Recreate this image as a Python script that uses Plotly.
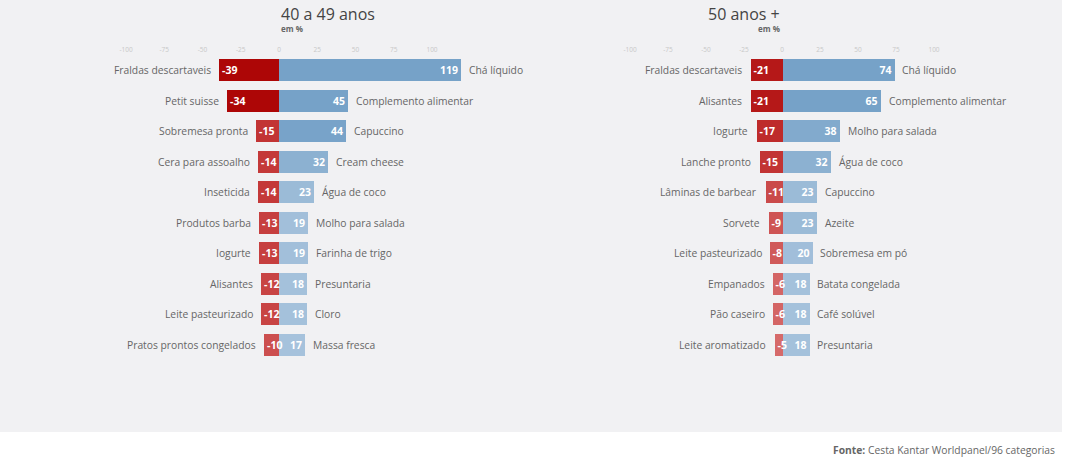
import plotly.graph_objects as go
from plotly.subplots import make_subplots

W, H = 1067, 460

# 40 a 49 anos
neg_cats_40 = ["Fraldas descartaveis", "Petit suisse", "Sobremesa pronta", "Cera para assoalho",
               "Inseticida", "Produtos barba", "Iogurte", "Alisantes", "Leite pasteurizado",
               "Pratos prontos congelados"]
neg_vals_40 = [-39, -34, -15, -14, -14, -13, -13, -12, -12, -10]
pos_cats_40 = ["Chá líquido", "Complemento alimentar", "Capuccino", "Cream cheese", "Água de coco",
               "Molho para salada", "Farinha de trigo", "Presuntaria", "Cloro", "Massa fresca"]
pos_vals_40 = [119, 45, 44, 32, 23, 19, 19, 18, 18, 17]

# 50 anos +
neg_cats_50 = ["Fraldas descartaveis", "Alisantes", "Iogurte", "Lanche pronto", "Lâminas de barbear",
               "Sorvete", "Leite pasteurizado", "Empanados", "Pão caseiro", "Leite aromatizado"]
neg_vals_50 = [-21, -21, -17, -15, -11, -9, -8, -6, -6, -5]
pos_cats_50 = ["Chá líquido", "Complemento alimentar", "Molho para salada", "Água de coco", "Capuccino",
               "Azeite", "Sobremesa em pó", "Batata congelada", "Café solúvel", "Presuntaria"]
pos_vals_50 = [74, 65, 38, 32, 23, 23, 20, 18, 18, 18]

ticks = [-100, -75, -50, -25, 0, 25, 50, 75, 100]
titles = ["40 a 49 anos", "50 anos +"]

RED_SCALE = [[0, "#ad0606"], [0.5, "#c23434"], [1, "#d66a6a"]]
BLUE_SCALE = [[0, "#a9c4dd"], [1, "#76a2c8"]]
FONT = "Open Sans"


def px_x(x):
    return x / W


def px_y(y):
    return 1 - y / H


fig = make_subplots(rows=1, cols=2, horizontal_spacing=0)

panels = [
    (neg_cats_40, neg_vals_40, pos_cats_40, pos_vals_40),
    (neg_cats_50, neg_vals_50, pos_cats_50, pos_vals_50),
]

# pixel geometry: zero line and px per unit for each panel
zero_px = [279, 782]
ppu = [1.53, 1.52]
dom = [(0, 533.5), (533.5, 1067)]

for i, (ncats, nvals, pcats, pvals) in enumerate(panels):
    col = i + 1
    idx = list(range(len(nvals)))
    # blue first so the red labels can spill over it
    fig.add_trace(go.Bar(
        x=pvals, y=idx, orientation="h", width=0.72,
        marker=dict(color=pvals, colorscale=BLUE_SCALE, cmin=15, cmax=45, line_width=0),
        text=[str(v) for v in pvals], textposition="inside", insidetextanchor="end",
        constraintext="none", textangle=0,
        textfont=dict(color="white", size=10.5, family=FONT, weight="bold"),
        hoverinfo="skip", showlegend=False,
    ), row=1, col=col)
    fig.add_trace(go.Bar(
        x=nvals, y=idx, orientation="h", width=0.72,
        marker=dict(color=nvals, colorscale=RED_SCALE, cmin=-25, cmax=-5, line_width=0),
        text=[str(v) for v in nvals], textposition="inside", insidetextanchor="end",
        constraintext="none", textangle=0,
        textfont=dict(color="white", size=10.5, family=FONT, weight="bold"),
        hoverinfo="skip", showlegend=False,
    ), row=1, col=col)

    xref = "x" if i == 0 else "x2"
    yref = "y" if i == 0 else "y2"
    for k in idx:
        fig.add_annotation(x=nvals[k], y=k, xref=xref, yref=yref, text=ncats[k],
                           xanchor="right", xshift=-6, showarrow=False,
                           font=dict(size=10.3, color="#666666", family=FONT))
        fig.add_annotation(x=pvals[k], y=k, xref=xref, yref=yref, text=pcats[k],
                           xanchor="left", xshift=6, showarrow=False,
                           font=dict(size=10.3, color="#666666", family=FONT))

    d0, d1 = dom[i]
    lo = -(zero_px[i] - d0) / ppu[i]
    hi = (d1 - zero_px[i]) / ppu[i]
    fig.update_xaxes(range=[lo, hi], domain=[px_x(d0), px_x(d1)], side="top",
                     tickvals=ticks, ticktext=[str(t) for t in ticks],
                     tickfont=dict(size=6.5, color="#c8c8c8", family=FONT),
                     showgrid=False, zeroline=False, showline=False, ticks="",
                     fixedrange=True, row=1, col=col)

    fig.add_annotation(x=px_x(zero_px[i]), y=px_y(14), xref="paper", yref="paper",
                       text=titles[i], showarrow=False, yanchor="middle",
                       font=dict(size=16, color="#444444", family=FONT))
    fig.add_annotation(x=px_x(zero_px[i]), y=px_y(29), xref="paper", yref="paper",
                       text="<b>em %</b>", showarrow=False, yanchor="middle",
                       font=dict(size=8, color="#666666", family=FONT))

# rows: first centre at y=70px, spacing 30.56px, plot area 54px..432px
row0, step = 70, 30.56
ytop, ybot = 54, 432
fig.update_yaxes(range=[(ybot - row0) / step, (ytop - row0) / step],
                 domain=[px_y(ybot), px_y(ytop)],
                 showticklabels=False, showgrid=False, zeroline=False,
                 fixedrange=True)

fig.add_shape(type="rect", xref="paper", yref="paper", x0=0, x1=px_x(1062),
              y0=px_y(432), y1=1, fillcolor="#f1f1f3", line_width=0, layer="below")

fig.add_annotation(x=px_x(1057), y=px_y(450), xref="paper", yref="paper",
                   text="<b>Fonte:</b> Cesta Kantar Worldpanel/96 categorias",
                   xanchor="right", yanchor="middle", showarrow=False,
                   font=dict(size=10.3, color="#666666", family=FONT))

fig.update_layout(
    width=W, height=H,
    margin=dict(l=0, r=0, t=0, b=0),
    paper_bgcolor="white", plot_bgcolor="rgba(0,0,0,0)",
    barmode="relative", bargap=0,
    font=dict(family=FONT),
)

# drop the default body margin so the figure fills the window
fig.write_html("out.html", config={"displayModeBar": False},
               post_script="document.body.style.margin = '0';")
